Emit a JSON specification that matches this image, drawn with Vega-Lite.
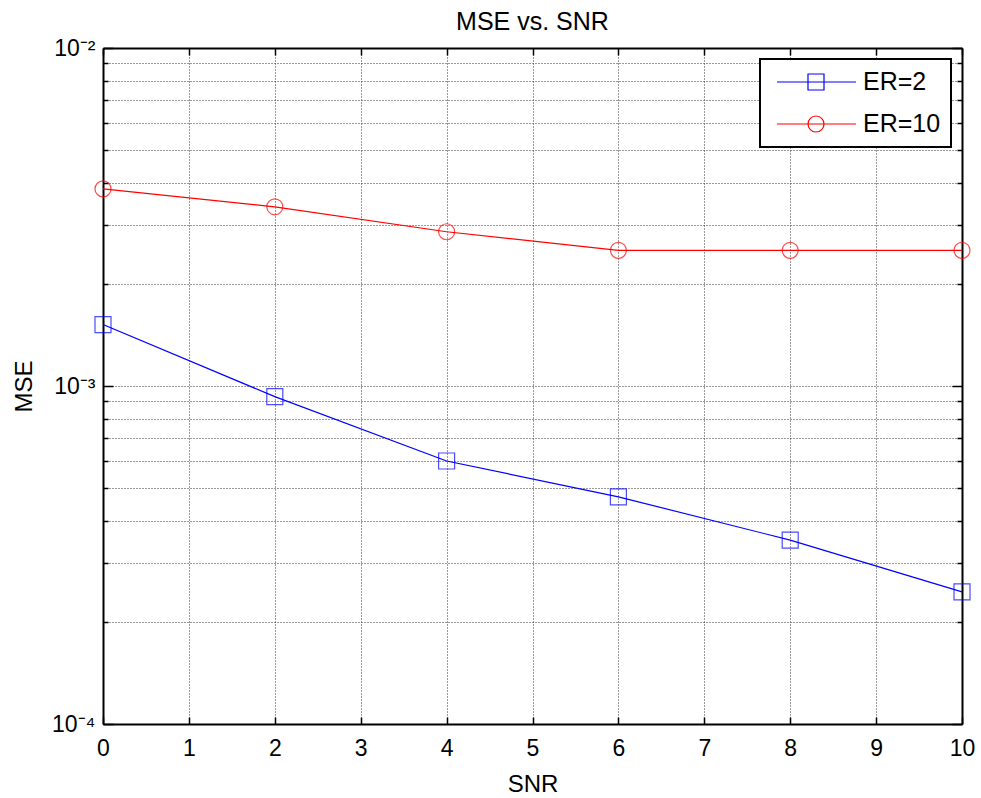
{
  "$schema": "https://vega.github.io/schema/vega-lite/v6.json",
  "autosize": {"type": "none"},
  "padding": {"left": 103, "top": 48, "right": 19, "bottom": 74},
  "width": 859,
  "height": 676,
  "background": "white",
  "title": {"text": "MSE vs. SNR", "font": "Liberation Sans", "fontSize": 25, "fontWeight": "normal", "color": "black", "offset": 16, "dy": 14, "anchor": "middle"},
  "config": {
    "view": {"stroke": null},
    "axis": {"labelFont": "Liberation Sans", "titleFont": "Liberation Sans", "labelColor": "black", "titleColor": "black", "domainColor": "black", "domainWidth": 2, "tickColor": "black", "tickWidth": 1.5, "labelOverlap": false, "labelFlush": false, "labelBound": false, "titleFontWeight": "normal"}
  },
  "data": {"values": [
    {"SNR": 0, "MSE": 0.00152, "series": "ER=2"},
    {"SNR": 2, "MSE": 0.00093, "series": "ER=2"},
    {"SNR": 4, "MSE": 0.00060, "series": "ER=2"},
    {"SNR": 6, "MSE": 0.00047, "series": "ER=2"},
    {"SNR": 8, "MSE": 0.00035, "series": "ER=2"},
    {"SNR": 10, "MSE": 0.000246, "series": "ER=2"},
    {"SNR": 0, "MSE": 0.00383, "series": "ER=10"},
    {"SNR": 2, "MSE": 0.00339, "series": "ER=10"},
    {"SNR": 4, "MSE": 0.00286, "series": "ER=10"},
    {"SNR": 6, "MSE": 0.00252, "series": "ER=10"},
    {"SNR": 8, "MSE": 0.00252, "series": "ER=10"},
    {"SNR": 10, "MSE": 0.00252, "series": "ER=10"}
  ]},
  "layer": [
    {
      "mark": {"type": "line", "strokeWidth": 1.2, "clip": false},
      "encoding": {
        "x": {"field": "SNR", "type": "quantitative", "scale": {"domain": [0, 10], "nice": false},
          "axis": {"orient": "bottom", "values": [0,1,2,3,4,5,6,7,8,9,10], "grid": true, "gridDash": [1, 2], "gridColor": "#333", "gridWidth": 1, "tickSize": -7, "labelPadding": 20, "labelFontSize": 23, "title": "SNR", "titleFontSize": 24, "titlePadding": 12}},
        "y": {"field": "MSE", "type": "quantitative", "scale": {"type": "log", "domain": [0.0001, 0.01], "nice": false},
          "axis": {"orient": "left", "values": [0.0001,0.0002,0.0003,0.0004,0.0005,0.0006,0.0007,0.0008,0.0009,0.001,0.002,0.003,0.004,0.005,0.006,0.007,0.008,0.009,0.01],
            "grid": true, "gridDash": [1, 2], "gridColor": "#333", "gridWidth": 1,
            "tickSize": {"condition": {"test": "abs(log(datum.value)/LN10 - round(log(datum.value)/LN10)) < 1e-6", "value": -10}, "value": -5},
            "labelExpr": "abs(log(datum.value)/LN10 - round(log(datum.value)/LN10)) < 1e-6 ? (round(log(datum.value)/LN10) == -2 ? '10⁻²' : round(log(datum.value)/LN10) == -3 ? '10⁻³' : '10⁻⁴') : ''",
            "labelFontSize": 23, "labelPadding": 18, "labelBaseline": "middle",
            "title": "MSE", "titleFontSize": 24, "titlePadding": 15}},
        "color": {"field": "series", "type": "nominal", "scale": {"domain": ["ER=2", "ER=10"], "range": ["#0000FF", "#FF0000"]},
          "legend": {"title": null, "orient": "top-right", "offset": 11, "labelFont": "Liberation Sans", "labelFontSize": 25, "labelColor": "black",
            "fillColor": "white", "strokeColor": "black", "padding": 10, "rowPadding": 16, "symbolSize": 576, "symbolOffset": 6, "labelOffset": 61, "symbolStrokeWidth": 1.2,
            "encode": {"legend": {"update": {"strokeWidth": {"value": 2}}},
              "symbols": {"update": {"shape": {"signal": "datum.value === 'ER=2' ? 'M-1,0H5.583M1.583,-0.667H2.917V0.667H1.583Z' : 'M-1,0H5.583M2.917,0A0.667,0.667,0,1,1,1.583,0A0.667,0.667,0,1,1,2.917,0'"}, "fill": {"value": "transparent"}}}}}}
      }
    },
    {
      "transform": [{"filter": "datum.series === 'ER=2'"}],
      "mark": {"type": "point", "shape": "square", "filled": false, "size": 256, "strokeWidth": 1.2, "clip": false},
      "encoding": {
        "x": {"field": "SNR", "type": "quantitative", "axis": null},
        "y": {"field": "MSE", "type": "quantitative", "axis": null},
        "color": {"field": "series", "type": "nominal"}
      }
    },
    {
      "transform": [{"filter": "datum.series === 'ER=10'"}],
      "mark": {"type": "point", "shape": "circle", "filled": false, "size": 256, "strokeWidth": 1.2, "clip": false},
      "encoding": {
        "x": {"field": "SNR", "type": "quantitative", "axis": null},
        "y": {"field": "MSE", "type": "quantitative", "axis": null},
        "color": {"field": "series", "type": "nominal"}
      }
    },
    {
      "mark": {"type": "point", "opacity": 0},
      "encoding": {
        "x": {"field": "SNR", "type": "quantitative",
          "axis": {"orient": "top", "values": [0,1,2,3,4,5,6,7,8,9,10], "grid": false, "labels": false, "title": null, "tickSize": -7}},
        "y": {"field": "MSE", "type": "quantitative",
          "axis": {"orient": "right", "values": [0.0001,0.0002,0.0003,0.0004,0.0005,0.0006,0.0007,0.0008,0.0009,0.001,0.002,0.003,0.004,0.005,0.006,0.007,0.008,0.009,0.01], "grid": false, "labels": false, "title": null,
            "tickSize": {"condition": {"test": "abs(log(datum.value)/LN10 - round(log(datum.value)/LN10)) < 1e-6", "value": -10}, "value": -5}}}
      }
    }
  ],
  "resolve": {"axis": {"x": "independent", "y": "independent"}}
}
